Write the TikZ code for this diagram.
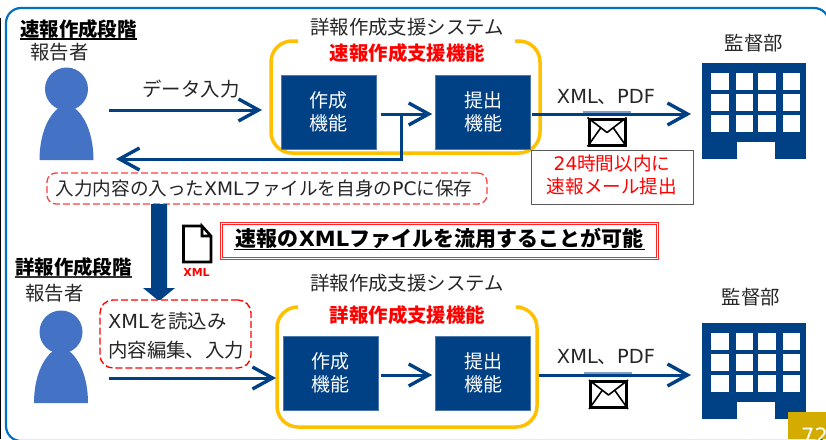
\documentclass[tikz,border=0pt]{standalone}
\usepackage{fontspec}
\setmainfont{Noto Sans CJK JP}
\newfontfamily\latfont{DejaVu Sans}
\usetikzlibrary{arrows.meta}
\definecolor{navy}{HTML}{004085}
\definecolor{frameblue}{HTML}{0070C0}
\definecolor{amber}{HTML}{FFC000}
\definecolor{personblue}{HTML}{4472C4}
\definecolor{dashred}{HTML}{FF4040}
\definecolor{ink}{HTML}{262626}
\definecolor{pagegold}{HTML}{D4AC00}
\definecolor{paleline}{HTML}{7F9FC4}
\newcommand{\lat}[1]{{\latfont #1}}
\newcommand{\fs}[1]{\fontsize{#1}{#1}\selectfont}
\newcommand{\fntext}[2]{\raisebox{2pt}{#1}\\\raisebox{2pt}{#2}}
\tikzset{
  lbl/.style={inner sep=0pt,text=ink,font=\fs{19.4}},
  headlbl/.style={inner sep=0pt,text=black,font=\fs{19.4}\bfseries},
  redlbl/.style={inner sep=0pt,text=red,font=\fs{19.4}\bfseries},
  fnbox/.style={fill=navy,draw=navy!70!white,line width=0.6pt,text=white,minimum width=95pt,minimum height=74pt,inner sep=0pt,align=center,font=\fontsize{19}{23}\selectfont},
  conn/.style={draw=navy,line width=3pt,-{Straight Barb[length=20pt,width=22pt,line width=3.4pt]}},
  sysframe/.style={draw=amber,line width=3.5pt,line cap=butt,rounded corners=21pt},
  dashbox/.style={draw=dashred,line width=1.3pt,dash pattern=on 7pt off 3pt,fill=white,rounded corners=9pt,inner sep=0pt},
  under/.style={draw=black,line width=1.4pt},
  mail/.style={draw=black,line width=3pt,fill=white,inner sep=0pt,minimum width=36pt,minimum height=26pt}
}
\newcommand{\person}[2]{%
  \fill[personblue] (#1-27,#2+71) .. controls (#1-27,#2+41) and (#1-15,#2+19) .. (#1,#2+15) .. controls (#1+15,#2+19) and (#1+27,#2+41) .. (#1+27,#2+71) -- cycle;
  \fill[personblue] (#1,#2) circle[radius=21.5pt];
}
\newcommand{\building}[2]{%
  \fill[navy] (#1,#2) rectangle (#1+104,#2+96);
  \fill[white] (#1+35,#2+79) rectangle (#1+73,#2+97);
  \foreach \wy in {10,31,52}{
    \foreach \wx/\ww in {9/18,34/17,56/18,81/17}{
      \fill[white] (#1+\wx,#2+\wy) rectangle (#1+\wx+\ww,#2+\wy+17);
    }
  }
}
\newcommand{\envlines}[1]{%
  \draw[black,line width=1.6pt,line join=round] (#1.north west) -- ([yshift=-15pt]#1.north) -- (#1.north east);
  \draw[black,line width=1.6pt] (#1.south west) -- ([xshift=-6pt,yshift=-10pt]#1.north);
  \draw[black,line width=1.6pt] (#1.south east) -- ([xshift=6pt,yshift=-10pt]#1.north);
}
\begin{document}
\begin{tikzpicture}[x=1pt,y=-1pt]
\clip (0,0) rectangle (826,439);
\fill[white] (0,0) rectangle (826,439);
% outer frames
\fill[black] (0,18) rectangle (1.2,439);
\draw[frameblue,line width=2.2pt,rounded corners=15pt] (6,8) rectangle (829,441);

% upper stage
\node[headlbl,anchor=west] (stageA) at (20,29) {速報作成段階};
\draw[under] ([yshift=-10pt]stageA.west) -- ([yshift=-10pt]stageA.east);
\node[lbl,anchor=west] (repA) at (30,52) {報告者};
\person{66.5}{89}
\node[lbl] (sysA) at (407,27) {詳報作成支援システム};
\node[redlbl] (fnA) at (407.5,53) {速報作成支援機能};
\draw[sysframe] (298,41) -- (271,41) -- (271,153) -- (540,153) -- (540,41) -- (515,41);
\node[fnbox] (makeA) at (328.5,112) {\fntext{作成}{機能}};
\node[fnbox] (sendA) at (483,112) {\fntext{提出}{機能}};
\node[lbl] (inputA) at (191,89) {データ入力};
\coordinate (repAout) at (109,110);
\coordinate (makeAin) at (262,110);
\draw[conn] (repAout) -- (makeAin);
\draw[conn] ([shift={(5,2)}]makeA.east) -- ([shift={(-3,2)}]sendA.west);
\coordinate (saveEnd) at (116,159);
\coordinate (saveTap) at (401,114);
\draw[conn] (saveTap) -- (401,159) -- (saveEnd);
\node[dashbox,minimum width=440pt,minimum height=31pt] (saveA) at (267,188.5) {};
\node[lbl,font=\fs{18.6}] (saveAtxt) at (264,188) {入力内容の入った\lat{XML}ファイルを自身の\lat{PC}に保存};
\coordinate (dirA) at (691,114);
\draw[conn] ([shift={(1,2)}]sendA.east) -- (dirA);
\draw[paleline,line width=1.5pt] (583,112) -- (631,112);
\node[lbl] (fmtA) at (606,97) {\lat{XML}、\lat{PDF}};
\node[mail] (mailA) at (607,132) {};
\envlines{mailA}
\node[draw=black!65,line width=1pt,fill=white,minimum width=162pt,minimum height=54pt,inner sep=0pt] (limitA) at (612,177) {};
\node[inner sep=0pt,text=red,align=center,font=\fontsize{18.6}{23}\selectfont] (limitAtxt) at (612,175) {\lat{24}時間以内に\\速報メール提出};
\node[lbl] (supA) at (754,43) {監督部};
\building{702}{63}

% transfer arrow
\fill[navy] (151,204) -- (167,204) -- (167,288) -- (175,288) -- (159,301) -- (143,288) -- (151,288) -- cycle;
\draw[black,line width=2.6pt,line join=miter] (202,226) -- (183.5,226) -- (183.5,262) -- (211,262) -- (211,236) -- (202,226) -- (202,236) -- (211,236);
\node[inner sep=0pt,text=red,font=\fs{11}\latfont\bfseries] (xmlLbl) at (196.5,272) {XML};
\node[draw=red!85!white,line width=1pt,double=white,double distance=1.6pt,fill=white,minimum width=436pt,minimum height=35pt,inner sep=0pt] (reuse) at (439.5,241) {};
\node[inner sep=0pt,text=black,font=\fs{21}\bfseries] (reuseTxt) at (439.5,238) {速報の\lat{\bfseries XML}ファイルを流用することが可能};
\draw[under,line width=1.6pt] (234,249.5) -- (645,249.5);

% lower stage
\node[headlbl,anchor=west] (stageB) at (15,267) {詳報作成段階};
\draw[under,black!80] ([yshift=-10pt]stageB.west) -- ([yshift=-10pt]stageB.east);
\node[lbl,anchor=west] (repB) at (25,293) {報告者};
\person{61}{332}
\node[dashbox,draw=red,minimum width=151pt,minimum height=68pt,rounded corners=13pt] (editB) at (175.5,334) {};
\node[lbl,anchor=west] (editB1) at (108,321) {\lat{XML}を読込み};
\node[lbl,anchor=west] (editB2) at (108,350) {内容編集、入力};
\node[lbl] (sysB) at (407,283) {詳報作成支援システム};
\node[redlbl] (fnB) at (407.5,315) {詳報作成支援機能};
\draw[sysframe] (295,307) -- (277,307) -- (277,427) -- (537,427) -- (537,307) -- (521,307);
\node[fnbox] (makeB) at (330.5,373.5) {\fntext{作成}{機能}};
\node[fnbox] (sendB) at (483,373.5) {\fntext{提出}{機能}};
\coordinate (repBout) at (109,378);
\coordinate (makeBin) at (276,378);
\draw[conn] (repBout) -- (makeBin);
\draw[conn] ([shift={(3,1.5)}]makeB.east) -- ([shift={(-3,1.5)}]sendB.west);
\coordinate (dirB) at (691,375);
\draw[conn] ([shift={(8,1.5)}]sendB.east) -- (dirB);
\draw[paleline,line width=1.5pt] (584,373) -- (632,373);
\node[lbl] (fmtB) at (606,357) {\lat{XML}、\lat{PDF}};
\node[mail] (mailB) at (608.5,394.5) {};
\envlines{mailB}
\node[lbl] (supB) at (751,297) {監督部};
\building{702}{323}

% page number
\fill[pagegold] (788,412) rectangle (826,439);
\node[anchor=west,inner sep=0pt,text=white,font=\fs{21}\latfont] (pageNo) at (801,436) {72};
\end{tikzpicture}
\end{document}
